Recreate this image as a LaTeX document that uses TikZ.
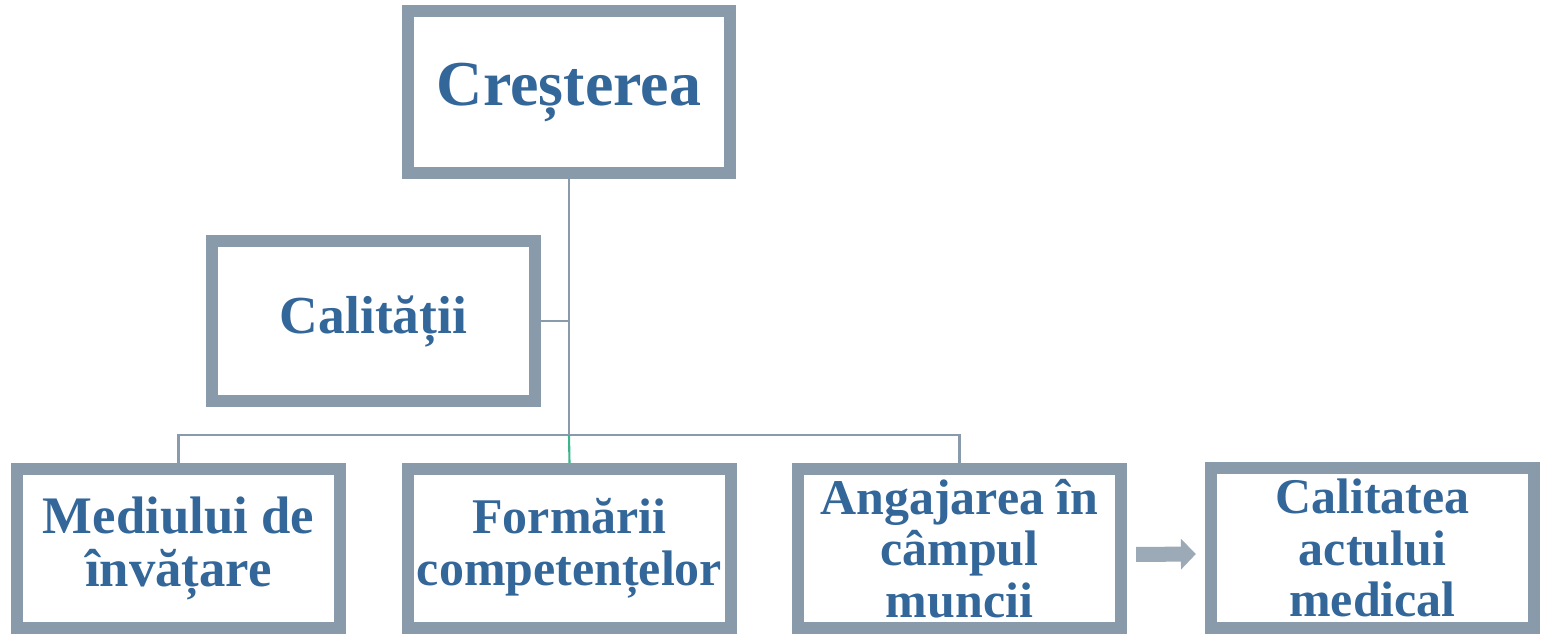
\documentclass[tikz,border=0pt]{standalone}
\usepackage{fontspec}
\setmainfont{Liberation Serif}
\usetikzlibrary{arrows.meta}
\definecolor{boxgray}{RGB}{137,155,170}
\definecolor{arrowgray}{RGB}{155,170,182}
\definecolor{textblue}{RGB}{51,102,153}
\definecolor{linkgreen}{RGB}{60,180,140}
\begin{document}
\begin{tikzpicture}[x=0.01cm,y=-0.01cm,
	bigbox/.style={draw=boxgray,line width=0.12cm,fill=white,rectangle,inner sep=0pt,
		text=textblue,font=\bfseries\fontsize{14.2}{14.7}\selectfont,align=center,
		minimum width=3.23cm,minimum height=1.6cm},
	link/.style={draw=boxgray,line width=0.6pt},
	blockarrow/.style={draw=arrowgray,line width=0.15cm,-{Triangle[length=0.15cm,width=0.3cm]}}]
		\useasboundingbox (0,0) rectangle (1544,634);

		\node[bigbox,minimum width=3.22cm,minimum height=1.62cm,font=\bfseries\fontsize{18.2}{19}\selectfont] (crest) at (569,92){Creșterea};
		\node[bigbox,font=\bfseries\fontsize{15.2}{15.6}\selectfont] (calit) at (373.5,321){Calității};

		\node[bigbox,minimum height=1.59cm,font=\bfseries\fontsize{15}{15.2}\selectfont] (mediu) at (178.5,548.5){Mediului de\\învățare};
		\node[bigbox,minimum height=1.59cm] (form) at (569.5,548.5){Formării\\competențelor};
		\node[bigbox,minimum height=1.59cm] (angaj) at (959.5,548.5){Angajarea în\\câmpul\\muncii};
		\node[bigbox,minimum height=1.6cm] (actul) at (1372.5,548){Calitatea\\actului\\medical};

		\coordinate (hub) at (569,435);
		\draw[link] (crest.south) -- (hub);
		\draw[link] (calit.east) -- (calit.east -| hub);
		\draw[link] (mediu.north) |- (hub) -| (angaj.north);
		\draw[link,draw=linkgreen] (hub) -- (form.north);

		\draw[blockarrow] ([shift={(9,6)}]angaj.east) -- ([shift={(-9,6)}]actul.west);
	\end{tikzpicture}
\end{document}
